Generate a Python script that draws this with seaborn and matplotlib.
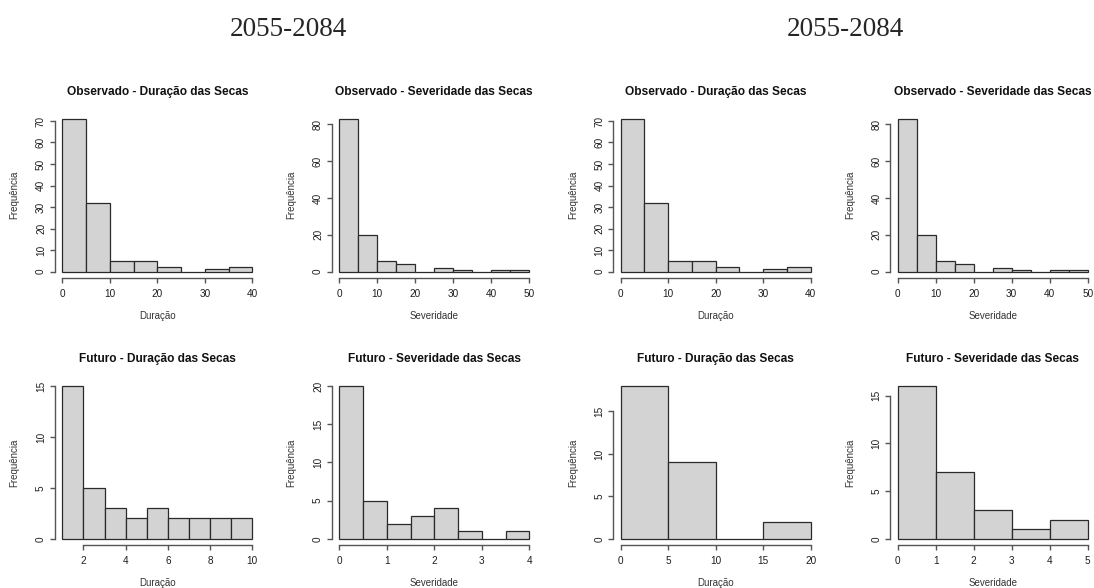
import numpy as np
import pandas as pd
import seaborn as sns
from matplotlib import pyplot as plt

sns.set_style('white')
plt.rcParams['font.family'] = ['Liberation Sans', 'DejaVu Sans']

periodo = '2055-2084'

# observado (igual nos dois blocos)
obs_dur_bins = [0, 5, 10, 15, 20, 25, 30, 35, 40]
obs_dur_freq = [71, 32, 5, 5, 2, 0, 1, 2]
obs_sev_bins = [0, 5, 10, 15, 20, 25, 30, 35, 40, 45, 50]
obs_sev_freq = [83, 20, 6, 4, 0, 2, 1, 0, 1, 1]

# futuro - bloco esquerdo
fut_dur_bins_a = [1, 2, 3, 4, 5, 6, 7, 8, 9, 10]
fut_dur_freq_a = [15, 5, 3, 2, 3, 2, 2, 2, 2]
fut_sev_bins_a = [0, 0.5, 1, 1.5, 2, 2.5, 3, 3.5, 4]
fut_sev_freq_a = [20, 5, 2, 3, 4, 1, 0, 1]

# futuro - bloco direito
fut_dur_bins_b = [0, 5, 10, 15, 20]
fut_dur_freq_b = [18, 9, 0, 2]
fut_sev_bins_b = [0, 1, 2, 3, 4, 5]
fut_sev_freq_b = [16, 7, 3, 1, 2]

obs_dur_xticks = [0, 10, 20, 30, 40]
obs_dur_yticks = [0, 10, 20, 30, 40, 50, 60, 70]
obs_sev_xticks = [0, 10, 20, 30, 40, 50]
obs_sev_yticks = [0, 20, 40, 60, 80]

panels = [
    # titulo, xlabel, bins, freq, xticks, yticks, coluna, linha
    ('Observado - Duração das Secas', 'Duração', obs_dur_bins, obs_dur_freq,
     obs_dur_xticks, obs_dur_yticks, 0, 0),
    ('Observado - Severidade das Secas', 'Severidade', obs_sev_bins, obs_sev_freq,
     obs_sev_xticks, obs_sev_yticks, 1, 0),
    ('Futuro - Duração das Secas', 'Duração', fut_dur_bins_a, fut_dur_freq_a,
     [2, 4, 6, 8, 10], [0, 5, 10, 15], 0, 1),
    ('Futuro - Severidade das Secas', 'Severidade', fut_sev_bins_a, fut_sev_freq_a,
     [0, 1, 2, 3, 4], [0, 5, 10, 15, 20], 1, 1),
    ('Observado - Duração das Secas', 'Duração', obs_dur_bins, obs_dur_freq,
     obs_dur_xticks, obs_dur_yticks, 2, 0),
    ('Observado - Severidade das Secas', 'Severidade', obs_sev_bins, obs_sev_freq,
     obs_sev_xticks, obs_sev_yticks, 3, 0),
    ('Futuro - Duração das Secas', 'Duração', fut_dur_bins_b, fut_dur_freq_b,
     [0, 5, 10, 15, 20], [0, 5, 10, 15], 2, 1),
    ('Futuro - Severidade das Secas', 'Severidade', fut_sev_bins_b, fut_sev_freq_b,
     [0, 1, 2, 3, 4, 5], [0, 5, 10, 15], 3, 1),
]

W, H = 1094, 588
col_left = [54.7, 331.7, 613.1, 890.1]
row_top = [112.7, 379.9]
ax_w, ax_h = 205.2, 165.0

fig = plt.figure(figsize=(W / 100, H / 100), dpi=100)

for title, xlab, bins, freq, xt, yt, c, r in panels:
    ax = fig.add_axes([col_left[c] / W, 1 - (row_top[r] + ax_h) / H, ax_w / W, ax_h / H])
    edges = np.array(bins, dtype=float)
    df = pd.DataFrame({'x': (edges[:-1] + edges[1:]) / 2, 'n': freq})
    sns.histplot(data=df, x='x', weights='n', bins=list(bins), ax=ax, color='#d3d3d3',
                 edgecolor='#2a2a2a', linewidth=0.9, alpha=1)

    rng = edges[-1] - edges[0]
    top = max(freq)
    ax.set_xlim(edges[0] - 0.04 * rng, edges[-1] + 0.04 * rng)
    ax.set_ylim(-0.04 * top, 1.04 * top)
    ax.set_xticks(xt)
    ax.set_yticks(yt)
    ax.set_xticklabels([str(v) for v in xt])
    ax.set_yticklabels([str(v) for v in yt])

    for s in ['top', 'right']:
        ax.spines[s].set_visible(False)
    ax.spines['left'].set_bounds(yt[0], yt[-1])
    ax.spines['bottom'].set_bounds(xt[0], xt[-1])
    for s in ['left', 'bottom']:
        ax.spines[s].set_color('#555555')
        ax.spines[s].set_linewidth(1.0)

    ax.tick_params(axis='both', direction='out', length=3.8, width=1.0, color='#555555',
                   labelsize=7.2, labelcolor='#1e1e1e', pad=2.5, left=True, bottom=True)
    ax.tick_params(axis='x', pad=4.5)
    ax.tick_params(axis='y', labelrotation=90)
    for lb in ax.get_yticklabels():
        lb.set_va('center')

    ax.set_title(title, fontsize=8.6, fontweight='bold', y=1 + 21 / ax_h, pad=0,
                 va='center', color='#111111')
    ax.set_xlabel(xlab, fontsize=7.0, color='#333333', va='center')
    ax.set_ylabel('Frequência', fontsize=7.0, color='#333333', va='center')
    ax.xaxis.set_label_coords(0.5, -38 / ax_h)
    ax.yaxis.set_label_coords(-40 / ax_w, 0.5)

fig.text(288 / W, 1 - 29 / H, periodo, family='Liberation Serif', fontsize=19.5,
         ha='center', va='center')
fig.text(845 / W, 1 - 29 / H, periodo, family='Liberation Serif', fontsize=19.5,
         ha='center', va='center')

fig.savefig('out.png', dpi=100)
